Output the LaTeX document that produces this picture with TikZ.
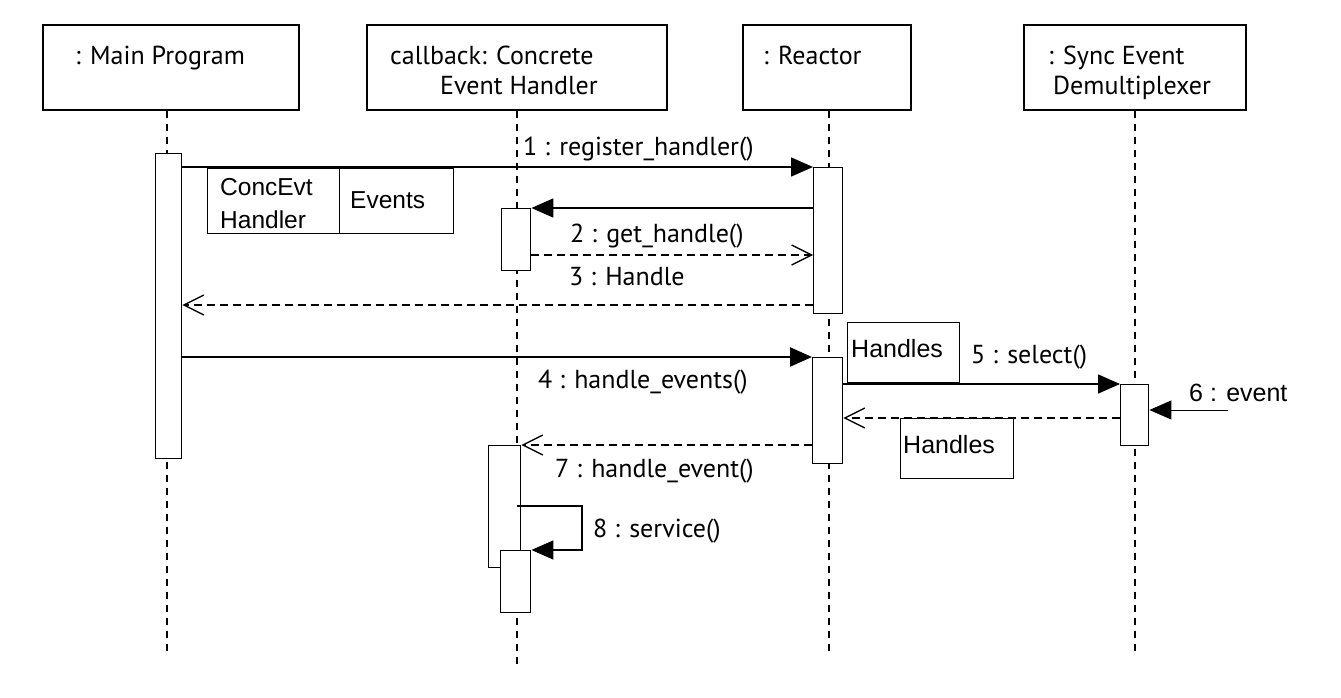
\documentclass[tikz,border=0pt]{standalone}
\usepackage{fontspec}
\setmainfont{PT Sans}
\newfontfamily\arialfont{Liberation Sans}
\usetikzlibrary{arrows.meta}
\begin{document}
\begin{tikzpicture}[x=1pt,y=-1pt,
  hdrbox/.style={draw, line width=1.6pt, inner sep=0pt, anchor=north west},
  act/.style={draw, fill=white, line width=1.4pt, inner sep=0pt, anchor=north west},
  cell/.style={draw, line width=1.4pt, inner sep=0pt, anchor=north west},
  txt/.style={anchor=base west, inner sep=0pt, font=\fontsize{26}{30}\selectfont},
  atxt/.style={anchor=base west, inner sep=0pt, font=\arialfont\fontsize{25}{29}\selectfont},
  life/.style={line width=1.6pt, dash pattern=on 7pt off 6pt},
  msg/.style={line width=1.6pt, -{Triangle[length=22pt,width=19pt]}},
  ret/.style={line width=1.3pt, dash pattern=on 8pt off 5pt, -{Straight Barb[length=20pt,width=20pt,line width=1.3pt]}}
]
\useasboundingbox (0,0) rectangle (1341,698);

% header boxes
\node[hdrbox, minimum width=256pt, minimum height=85pt] (mainbox) at (42,24) {};
\node[hdrbox, minimum width=300pt, minimum height=85pt] (cbbox) at (366,24) {};
\node[hdrbox, minimum width=168pt, minimum height=85pt] (rbox) at (742,24) {};
\node[hdrbox, minimum width=222pt, minimum height=85pt] (sbox) at (1023,24) {};

\node[txt] (t1) at (75,65) {: Main Program};
\node[txt] (t2a) at (390,65) {callback: Concrete};
\node[txt] (t2b) at (440,95) {Event Handler};
\node[txt] (t3) at (763,65) {: Reactor};
\node[txt] (t4a) at (1048,65) {: Sync Event};
\node[txt] (t4b) at (1053,95) {Demultiplexer};

% lifeline ends
\coordinate (mainend) at (167,655);
\coordinate (cbend) at (517,665);
\coordinate (rend) at (829,655);
\coordinate (send) at (1135,655);

\draw[life] (mainbox.south -| mainend) -- (mainend);
\draw[life] (cbbox.south -| cbend) -- (cbend);
\draw[life] (rbox.south -| rend) -- (rend);
\draw[life] (sbox.south -| send) -- (send);

% activations
\node[act, minimum width=26pt, minimum height=305pt] (amain) at (155,153) {};
\node[act, minimum width=29pt, minimum height=146pt] (ar1) at (813,167) {};
\node[act, minimum width=29pt, minimum height=62pt] (acb1) at (501,208) {};
\node[act, minimum width=30pt, minimum height=106pt] (ar2) at (812,357) {};
\node[act, minimum width=28pt, minimum height=61pt] (as) at (1120,384) {};
\node[act, minimum width=32pt, minimum height=122pt] (acb2) at (488,445) {};
\node[act, minimum width=30pt, minimum height=62pt] (acb3) at (500,550) {};

% ConcEvt / Events box
\node[cell, minimum width=132pt, minimum height=65pt] (ce1) at (207,168) {};
\node[cell, minimum width=114pt, minimum height=65pt] (ce2) at (339,168) {};
\node[atxt, font=\arialfont\fontsize{24.5}{28}\selectfont] (ce1a) at (220,195) {ConcEvt};
\node[atxt, font=\arialfont\fontsize{24.5}{28}\selectfont] (ce1b) at (220,228) {Handler};
\node[atxt, font=\arialfont\fontsize{24.5}{28}\selectfont] (ce2a) at (350,208) {Events};

% message 1
\draw[msg] (amain.east |- ar1.north) -- (ar1.north west);
\node[txt] (l1) at (523,155) {1 : register\_handler()};
% message 2
\draw[msg] (ar1.west |- acb1.north) -- (acb1.north east);
\node[txt] (l2) at (570,242) {2 : get\_handle()};
% return 3
\coordinate (y3) at (0,255);
\draw[ret] (acb1.east |- y3) -- (ar1.west |- y3);
\node[txt] (l3) at (569,285) {3 : Handle};
% return to main
\coordinate (y3b) at (0,305);
\draw[ret] (ar1.west |- y3b) -- (amain.east |- y3b);

% message 4
\draw[msg, line width=2.4pt] (amain.east |- ar2.north) -- (ar2.north west);
\node[txt] (l4) at (538,388) {4 : handle\_events()};

% Handles box 1
\node[cell, minimum width=112pt, minimum height=60pt] (hb1) at (847,322) {};
\node[atxt] (hb1t) at (851,357) {Handles};

% message 5
\draw[msg] (ar2.east |- as.north) -- (as.north west);
\node[txt] (l5) at (971,363) {5 : select()};

% message 6
\coordinate (ev) at (1228,410);
\draw[msg, line width=1pt] (ev) -- (as.east |- ev);
\node[atxt] (l6) at (1189,401) {6 : event};

% return from sync
\coordinate (y5) at (0,418);
\draw[ret] (as.west |- y5) -- (ar2.east |- y5);
\node[cell, minimum width=113pt, minimum height=60pt] (hb2) at (900,418) {};
\node[atxt] (hb2t) at (903,453) {Handles};

% message 7
\draw[ret] (ar2.west |- acb2.north) -- (acb2.north east);
\node[txt] (l7) at (555,477) {7 : handle\_event()};

% message 8 (self)
\coordinate (s1) at (517,506);
\coordinate (s2) at (582,506);
\coordinate (s3) at (582,550);
\draw[line width=1.6pt, -{Triangle[length=22pt,width=19pt]}] (s1) -- (s2) -- (s3) -- (acb3.north east);
\node[txt] (l8) at (593,537) {8 : service()};
\end{tikzpicture}
\end{document}
